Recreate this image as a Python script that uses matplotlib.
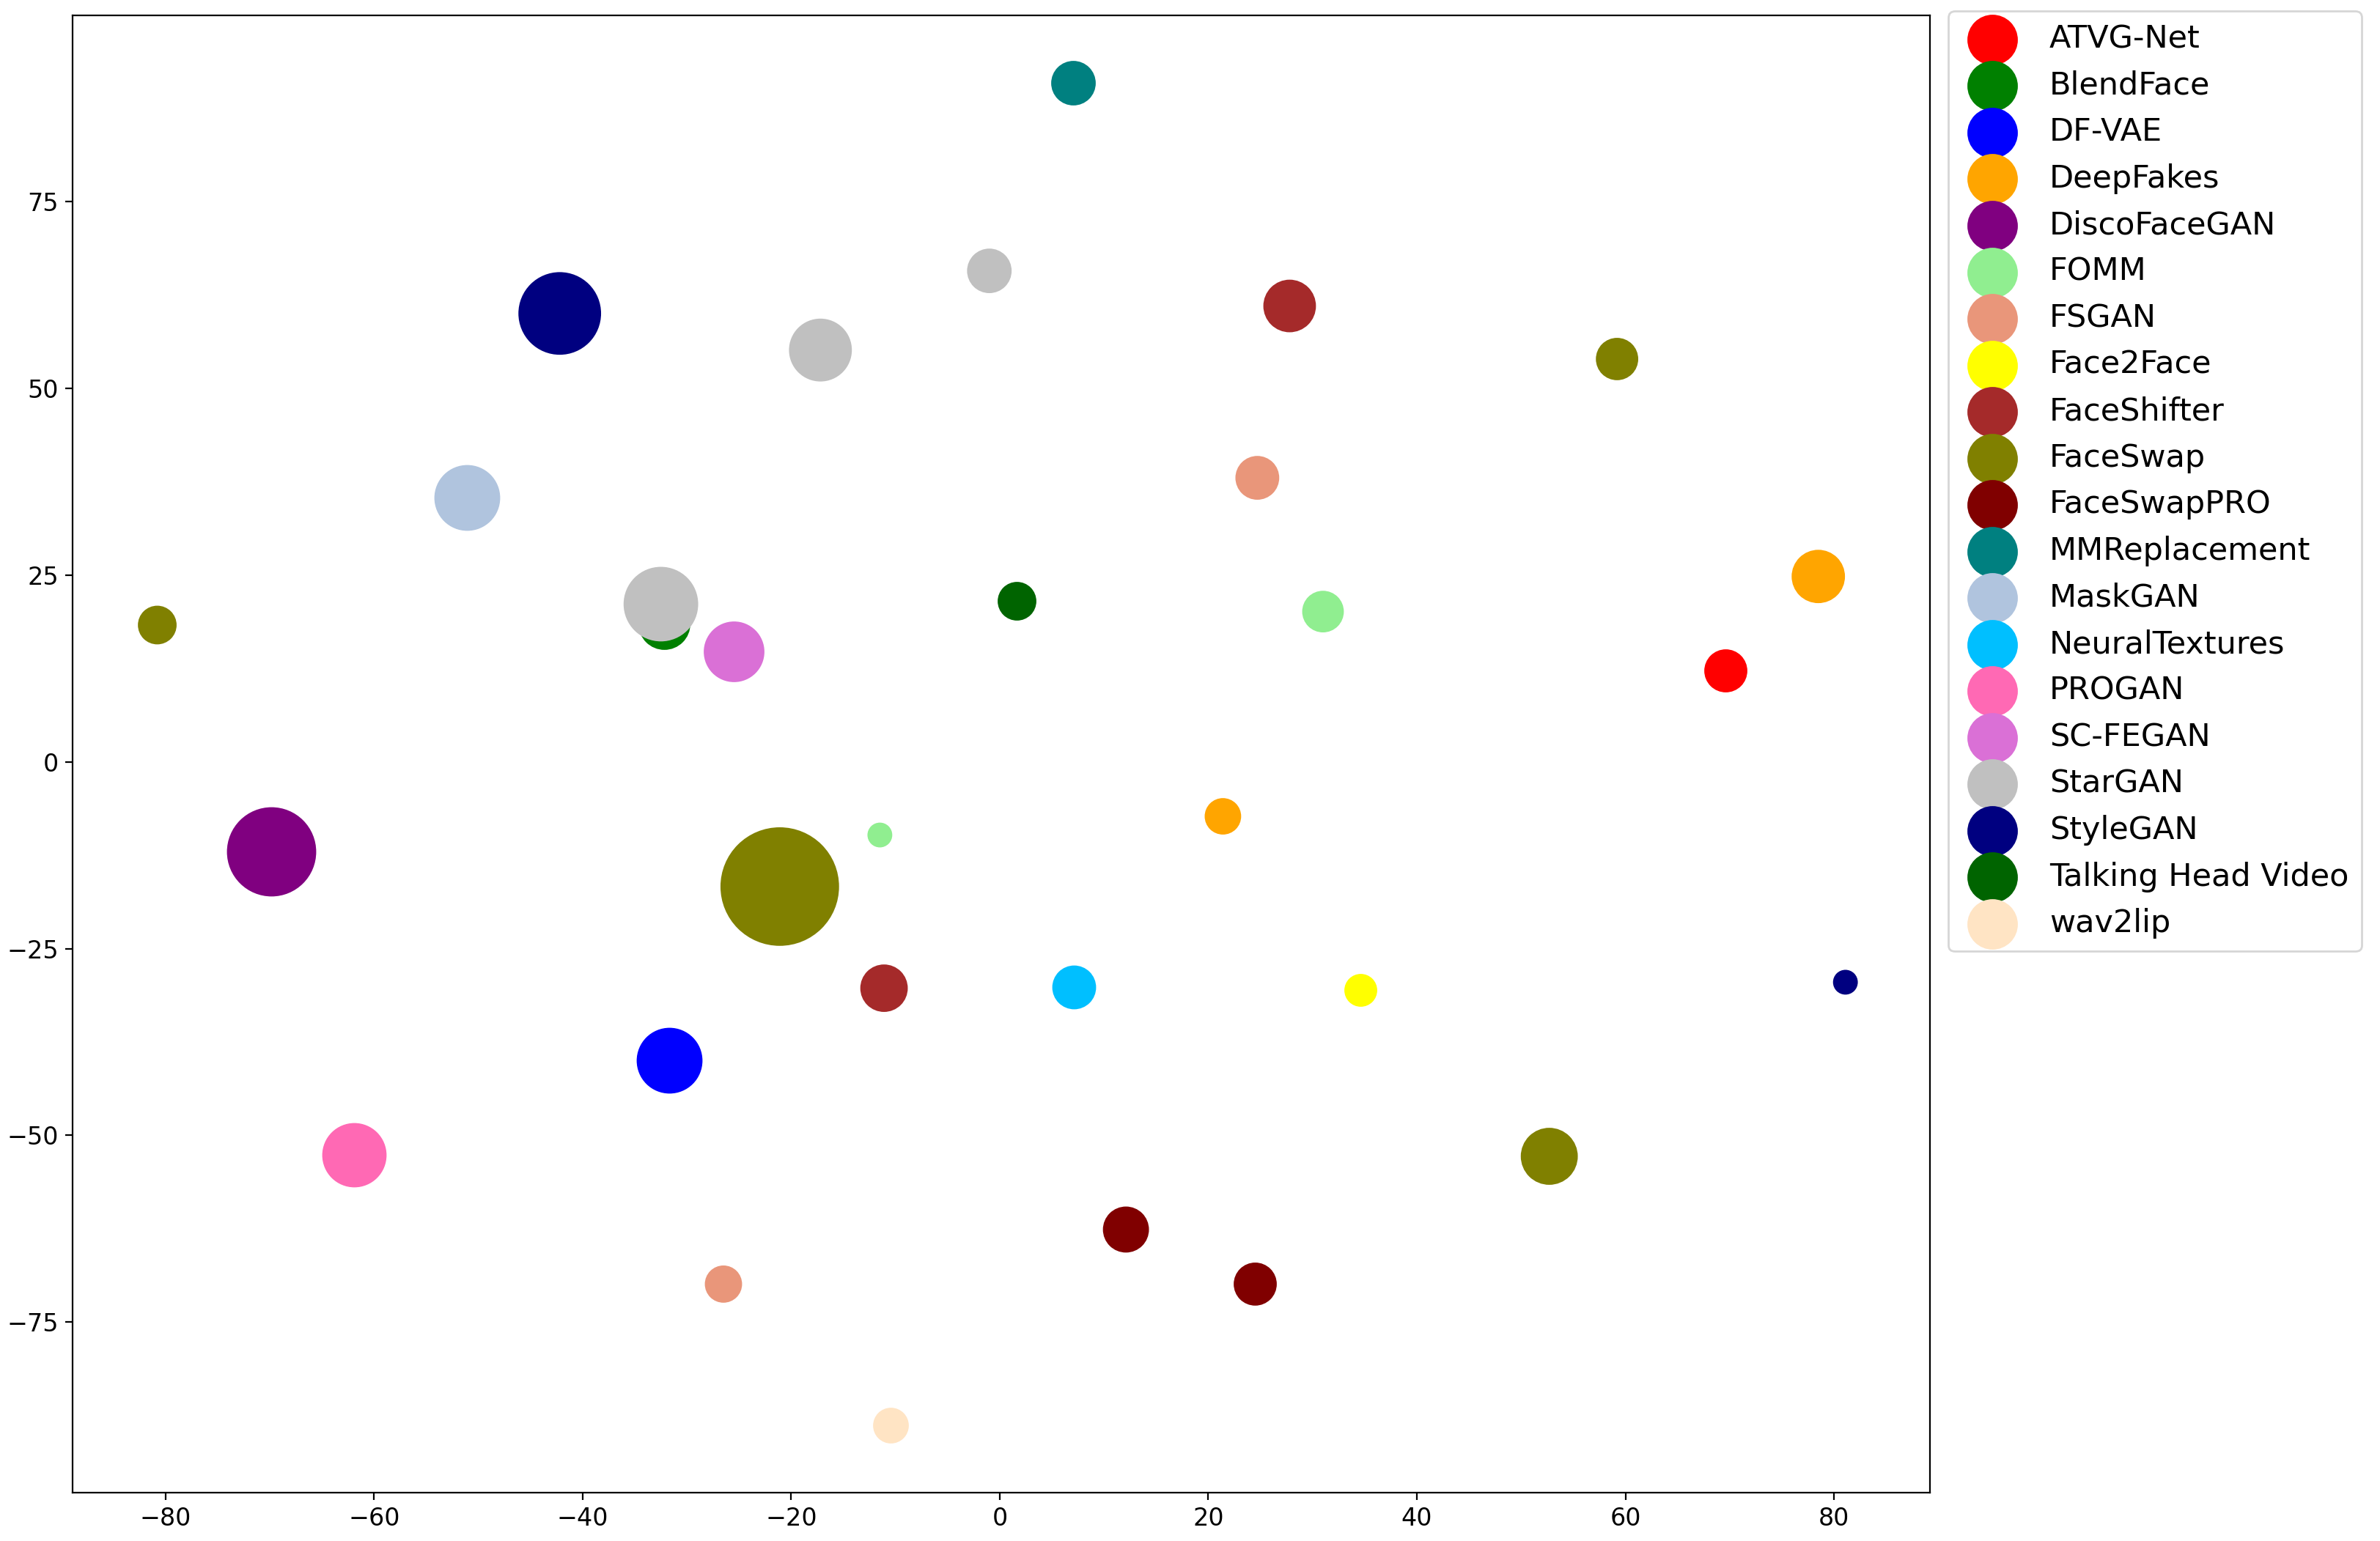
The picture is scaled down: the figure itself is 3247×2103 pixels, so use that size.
import numpy as np
import matplotlib
matplotlib.use("Agg")
import matplotlib.pyplot as plt

# methods and their colours (legend order)
methods = ['ATVG-Net', 'BlendFace', 'DF-VAE', 'DeepFakes', 'DiscoFaceGAN', 'FOMM',
           'FSGAN', 'Face2Face', 'FaceShifter', 'FaceSwap', 'FaceSwapPRO',
           'MMReplacement', 'MaskGAN', 'NeuralTextures', 'PROGAN', 'SC-FEGAN',
           'StarGAN', 'StyleGAN', 'Talking Head Video', 'wav2lip']
colors = ['red', 'green', 'blue', 'orange', 'purple', 'lightgreen',
          'darksalmon', 'yellow', 'brown', 'olive', 'maroon',
          'teal', 'lightsteelblue', 'deepskyblue', 'hotpink', 'orchid',
          'silver', 'navy', 'darkgreen', 'bisque']

# embedded points (one row per cluster)
point_method = ['ATVG-Net', 'BlendFace', 'DF-VAE', 'DeepFakes', 'DeepFakes',
                'DiscoFaceGAN', 'FOMM', 'FOMM', 'FSGAN', 'FSGAN', 'Face2Face',
                'FaceShifter', 'FaceShifter', 'FaceSwap', 'FaceSwap', 'FaceSwap',
                'FaceSwap', 'FaceSwapPRO', 'FaceSwapPRO', 'MMReplacement', 'MaskGAN',
                'NeuralTextures', 'PROGAN', 'SC-FEGAN', 'StarGAN', 'StarGAN',
                'StarGAN', 'StyleGAN', 'StyleGAN', 'Talking Head Video', 'wav2lip']
point_x = [69.6, -32.2, -31.7, 78.5, 21.4,
           -69.9, 31.0, -11.5, 24.7, -26.5, 34.6,
           27.8, -11.1, 59.2, -80.8, -21.1,
           52.7, 12.1, 24.5, 7.0, -51.1,
           7.1, -61.9, -25.5, -1.0, -17.2,
           -32.5, -42.2, 81.1, 1.6, -10.5]
point_y = [12.2, 18.5, -40.0, 24.8, -7.3,
           -12.0, 20.1, -9.8, 38.0, -69.9, -30.5,
           61.0, -30.3, 53.9, 18.3, -16.7,
           -52.8, -62.6, -69.9, 90.9, 35.4,
           -30.1, -52.6, 14.8, 65.7, 55.1,
           21.1, 60.0, -29.5, 21.5, -88.8]
point_size = [406, 599, 981, 635, 286,
              1835, 378, 125, 421, 299, 229,
              617, 498, 392, 324, 3276,
              729, 467, 406, 436, 981,
              421, 936, 829, 436, 893,
              1270, 1568, 125, 324, 274]

fig = plt.figure(figsize=(16.24, 10.515), dpi=200)
ax = fig.add_subplot(111)
fig.subplots_adjust(left=0.0306, right=0.8106, bottom=0.0315, top=0.990)

pm = np.array(point_method)
px = np.array(point_x)
py = np.array(point_y)
ps = np.array(point_size)
for name, col in zip(methods, colors):
    m = pm == name
    ax.scatter(px[m], py[m], s=ps[m], c=col, label=name)

ax.tick_params(labelsize=12)
leg = ax.legend(loc='upper left', bbox_to_anchor=(1.01, 1.003), borderaxespad=0,
                fontsize=15.5)
for h in leg.legend_handles:
    h.set_sizes([565])

fig.savefig('out.png', dpi=200)
